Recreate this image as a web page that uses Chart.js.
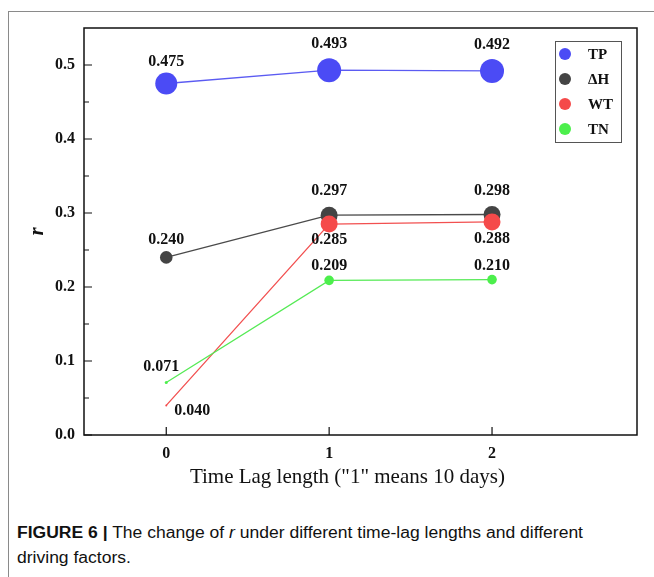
<!DOCTYPE html>
<html>
<head>
<meta charset="utf-8">
<script src="https://cdn.jsdelivr.net/npm/chart.js@4.4.1/dist/chart.umd.min.js"></script>
<style>
  html, body { margin: 0; padding: 0; background: #fff; }
  body { width: 654px; height: 577px; position: relative; overflow: hidden; }
  #frame { position: absolute; left: 8px; top: 11px; width: 660px; height: 600px;
           border-left: 1px solid #8a8a8a; border-top: 1px solid #8a8a8a; }
  #chart { position: absolute; left: 0; top: 0; }
  #caption { position: absolute; left: 17px; top: 520px; font-family: "Liberation Sans", Arial, sans-serif;
             font-size: 16px; line-height: 25px; color: #111; transform-origin: 0 0; white-space: nowrap; }
  #caption b { font-weight: bold; }
</style>
</head>
<body>
<div id="frame"></div>
<canvas id="chart" width="654" height="500"></canvas>
<div id="caption"><span id="line1"><b>FIGURE 6 |</b> The change of <i>r</i> under different time-lag lengths and different</span><br>driving factors.</div>
<script>
// 数据
const lags = [0, 1, 2];
const seriesNames = ['TP', 'ΔH', 'WT', 'TN'];
const tpValues = [0.475, 0.493, 0.492];
const dhValues = [0.240, 0.297, 0.298];
const wtValues = [0.040, 0.285, 0.288];
const tnValues = [0.071, 0.209, 0.210];
const xTicks = [0, 1, 2];
const yTicks = [0, 0.1, 0.2, 0.3, 0.4, 0.5];

// 样式
const pointColors = ['#4b4bf5', '#444444', '#f54a4a', '#4cef4c'];
const lineColors = ['#5b5bf2', '#4a4a4a', '#f25050', '#55ea55'];
const pointSizes = [[11, 12, 12], [6.3, 8.5, 8.5], [1, 8.5, 8.5], [1.5, 4.8, 4.8]];
const labelOffsets = [
    [[0, -22], [0, -26], [0, -26]],
    [[0, -18], [0, -24], [0, -24]],
    [[26, 5], [0, 16], [0, 17]],
    [[-5, -16], [0, -14], [0, -14]]
];
const serif = '"Liberation Serif", "Times New Roman", serif';

function toPoints(values) {
    return lags.map((x, i) => ({ x: x, y: values[i] }));
}

// 数值标签 + 内侧刻度 + 边框 + 图例
const decorPlugin = {
    id: 'decor',
    afterDatasetsDraw(chart) {
        const ctx = chart.ctx;
        const area = chart.chartArea;
        const xs = chart.scales.x;
        const ys = chart.scales.y;

        ctx.save();
        // 边框
        ctx.strokeStyle = '#111';
        ctx.lineWidth = 1.5;
        ctx.strokeRect(area.left, area.top, area.right - area.left, area.bottom - area.top);

        // y 刻度（主、次）和 x 刻度
        ctx.lineWidth = 1.2;
        ctx.beginPath();
        yTicks.forEach(v => {
            const y = ys.getPixelForValue(v);
            ctx.moveTo(area.left, y);
            ctx.lineTo(area.left + 8, y);
            const mid = v + 0.05;
            if (mid < ys.max) {
                const ym = ys.getPixelForValue(mid);
                ctx.moveTo(area.left, ym);
                ctx.lineTo(area.left + 5, ym);
            }
        });
        xTicks.forEach(v => {
            const x = xs.getPixelForValue(v);
            ctx.moveTo(x, area.bottom);
            ctx.lineTo(x, area.bottom - 8);
        });
        ctx.stroke();

        // 数值标签
        ctx.fillStyle = '#111';
        ctx.font = 'bold 16px ' + serif;
        ctx.textAlign = 'center';
        ctx.textBaseline = 'middle';
        chart.data.datasets.forEach((ds, di) => {
            const meta = chart.getDatasetMeta(di);
            meta.data.forEach((pt, i) => {
                const off = labelOffsets[di][i];
                ctx.fillText(ds.data[i].y.toFixed(3), pt.x + off[0], pt.y + off[1]);
            });
        });

        // 图例
        const lx = 555, ly = 41, lw = 66, lh = 101;
        ctx.fillStyle = '#fff';
        ctx.fillRect(lx, ly, lw, lh);
        ctx.strokeStyle = '#555';
        ctx.lineWidth = 1;
        ctx.strokeRect(lx + 0.5, ly + 0.5, lw, lh);
        ctx.font = 'bold 15px ' + serif;
        ctx.textAlign = 'left';
        chart.data.datasets.forEach((ds, di) => {
            const y = ly + 13 + di * 25;
            ctx.fillStyle = ds.pointBackgroundColor;
            ctx.beginPath();
            ctx.arc(lx + 10, y, 6, 0, Math.PI * 2);
            ctx.fill();
            ctx.fillStyle = '#111';
            ctx.fillText(ds.label, lx + 33, y + 1);
        });
        ctx.restore();
    }
};

const datasets = [tpValues, dhValues, wtValues, tnValues].map((vals, di) => ({
    label: seriesNames[di],
    data: toPoints(vals),
    borderColor: lineColors[di],
    borderWidth: 1.3,
    pointBackgroundColor: pointColors[di],
    pointBorderWidth: 0,
    pointRadius: pointSizes[di],
    pointHoverRadius: pointSizes[di],
    tension: 0,
    order: di === 1 ? 2 : (di === 2 ? 1 : 0)
}));

new Chart(document.getElementById('chart'), {
    type: 'line',
    data: { datasets: datasets },
    options: {
        responsive: false,
        animation: false,
        devicePixelRatio: 1,
        layout: { padding: { top: 28, right: 17, left: 0, bottom: 0 } },
        plugins: { legend: { display: false }, tooltip: { enabled: false } },
        scales: {
            x: {
                type: 'linear',
                min: -0.505,
                max: 2.89,
                grid: { display: false, drawTicks: false },
                border: { display: false },
                afterBuildTicks: s => { s.ticks = xTicks.map(v => ({ value: v })); },
                afterFit: s => { s.height = 65; },
                ticks: {
                    color: '#111',
                    padding: 9,
                    font: { family: serif, size: 16, weight: 'bold' },
                    callback: v => String(v)
                },
                title: {
                    display: true,
                    // 末尾空格让标题略向左偏，与原图一致
                    text: 'Time Lag length ("1" means 10 days)     ',
                    color: '#111',
                    font: { family: serif, size: 21 },
                    padding: { top: 0, bottom: 10 }
                }
            },
            y: {
                min: 0,
                max: 0.55,
                grid: { display: false, drawTicks: false },
                border: { display: false },
                afterBuildTicks: s => { s.ticks = yTicks.map(v => ({ value: v })); },
                afterFit: s => { s.width = 84; },
                ticks: {
                    color: '#111',
                    padding: 9,
                    font: { family: serif, size: 16, weight: 'bold' },
                    callback: v => v.toFixed(1)
                },
                title: {
                    display: true,
                    text: 'r',
                    color: '#111',
                    font: { family: serif, size: 21, weight: 'bold', style: 'italic' },
                    padding: { top: 25, bottom: 0 }
                }
            }
        }
    },
    plugins: [decorPlugin]
});

// 标题宽度压缩到原图比例
const cap = document.getElementById('caption');
const w = document.getElementById('line1').getBoundingClientRect().width;
cap.style.transform = 'scaleX(' + (566 / w) + ')';
</script>
</body>
</html>
